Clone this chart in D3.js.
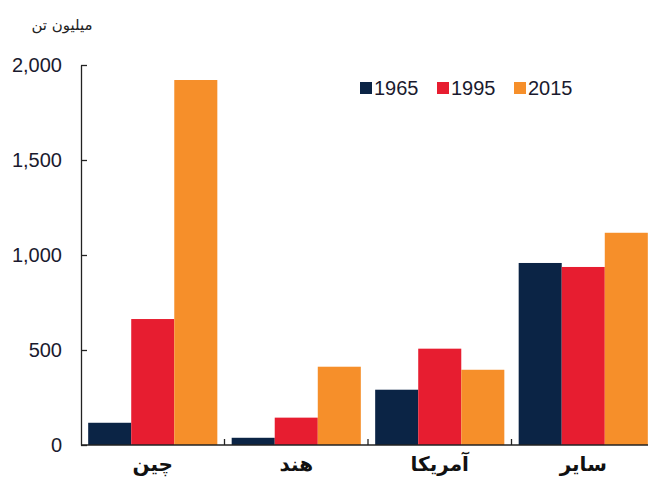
<!DOCTYPE html>
<html>
<head>
<meta charset="utf-8">
<script src="https://cdn.jsdelivr.net/npm/d3@7"></script>
<style>
    body { margin: 0; background: #fff; }
    svg { display: block; font-family: "Liberation Sans", Arial, sans-serif; }
    .axis text { fill: #1a1a2e; font-size: 20px; }
    .cat-label { font-family: "DejaVu Sans", "Noto Sans", sans-serif; font-size: 20px; font-weight: bold; fill: #111; }
    .unit-label { font-family: "DejaVu Sans", "Noto Sans", sans-serif; font-size: 15px; fill: #222; }
    .legend text { font-size: 20px; fill: #1a1a2e; }
</style>
</head>
<body>
<div class="chart"></div>
<script>

const categories = ["چین", "هند", "آمریکا", "سایر"];
const years = ["1965", "1995", "2015"];
const values1965 = [117, 38, 291, 958];
const values1995 = [663, 144, 507, 937];
const values2015 = [1921, 412, 396, 1117];
const yTicks = [0, 500, 1000, 1500, 2000];
const colors = ["#0b2445", "#e71d30", "#f68f2a"];

const dim = { width: 648, height: 477 };
const margin = { top: 65, right: -7, bottom: 32, left: 81 };

const series = [values1965, values1995, values2015];
const data = categories.map((c, i) => ({
    cat: c,
    vals: years.map((y, j) => ({ year: y, value: series[j][i] }))
}));

const svg = d3.select(".chart").append("svg")
    .attr("width", dim.width)
    .attr("height", dim.height);

const x0 = d3.scaleBand()
    .domain(categories)
    .range([margin.left, dim.width - margin.right])
    .paddingInner(0.1)
    .paddingOuter(0.05);

const x1 = d3.scaleBand()
    .domain(years)
    .range([0, x0.bandwidth()]);

const y = d3.scaleLinear()
    .domain([0, 2000])
    .range([dim.height - margin.bottom, margin.top]);

const color = d3.scaleOrdinal().domain(years).range(colors);

// bars
svg.append("g")
    .selectAll("g")
    .data(data)
    .join("g")
    .attr("transform", d => `translate(${ x0(d.cat) }, 0)`)
    .selectAll("rect")
    .data(d => d.vals)
    .join("rect")
    .attr("x", d => x1(d.year))
    .attr("y", d => y(d.value))
    .attr("width", x1.bandwidth())
    .attr("height", d => y(0) - y(d.value))
    .attr("fill", d => color(d.year));

// y axis
const yAxis = d3.axisRight(y)
    .tickValues(yTicks)
    .tickFormat(d3.format(","))
    .tickSize(6)
    .tickSizeOuter(0);

svg.append("g")
    .attr("class", "axis y")
    .attr("transform", `translate(${ margin.left }, 0)`)
    .call(yAxis)
    .call(g => g.select(".domain").attr("stroke", "#222").attr("stroke-width", 1.3))
    .call(g => g.selectAll(".tick line").attr("stroke", "#222").attr("stroke-width", 1.3))
    .call(g => g.selectAll(".tick text")
        .attr("x", -19)
        .attr("text-anchor", "end"));

// x axis: baseline with ticks between categories
const step = x0.step();
const bounds = categories.slice(1).map(c => x0(c) - step * x0.paddingInner() / 2);

const xg = svg.append("g").attr("class", "axis x");
xg.append("line")
    .attr("x1", margin.left)
    .attr("x2", dim.width)
    .attr("y1", y(0))
    .attr("y2", y(0))
    .attr("stroke", "#222")
    .attr("stroke-width", 1.5);
xg.selectAll(".sep")
    .data(bounds)
    .join("line")
    .attr("class", "sep")
    .attr("x1", d => d)
    .attr("x2", d => d)
    .attr("y1", y(0))
    .attr("y2", y(0) - 6)
    .attr("stroke", "#222")
    .attr("stroke-width", 1.3);

svg.append("g")
    .selectAll("text")
    .data(categories)
    .join("text")
    .attr("class", "cat-label")
    .attr("direction", "rtl")
    .attr("text-anchor", "middle")
    .attr("x", d => x0(d) + x0.bandwidth() / 2)
    .attr("y", dim.height - 6)
    .text(d => d);

// unit label
svg.append("text")
    .attr("class", "unit-label")
    .attr("direction", "rtl")
    .attr("text-anchor", "middle")
    .attr("x", 62)
    .attr("y", 30)
    .text("میلیون تن");

// legend
const legendX = [360, 437, 514];
const legend = svg.append("g").attr("class", "legend");
const li = legend.selectAll("g")
    .data(years)
    .join("g")
    .attr("transform", (d, i) => `translate(${ legendX[i] }, 82)`);
li.append("rect")
    .attr("width", 12)
    .attr("height", 12)
    .attr("fill", d => color(d));
li.append("text")
    .attr("x", 14)
    .attr("y", 13)
    .text(d => d);

</script>
</body>
</html>
